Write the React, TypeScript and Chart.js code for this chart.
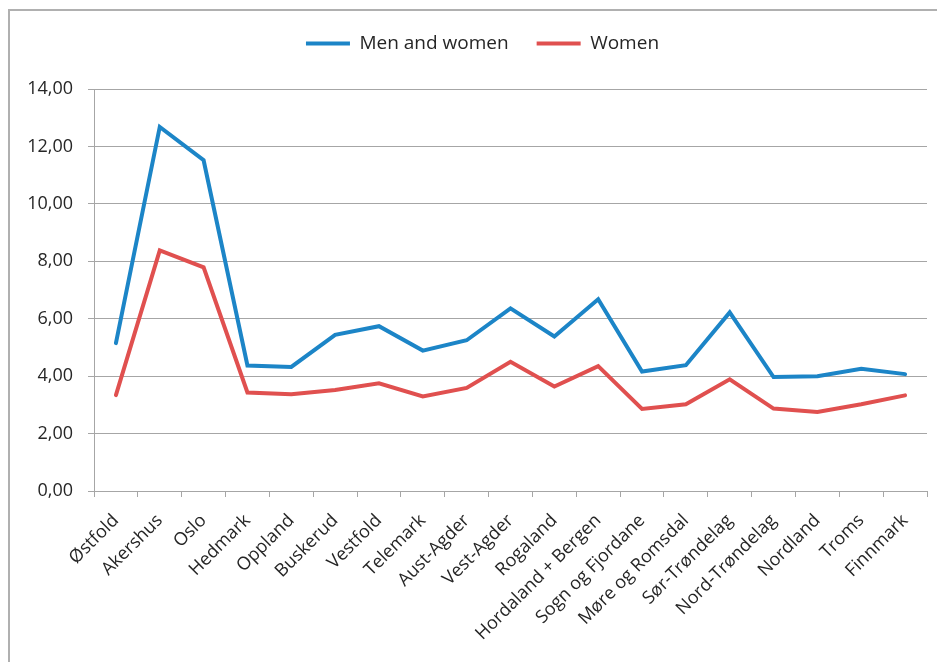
import React, { useEffect, useRef } from "react";
import { Chart, registerables } from "chart.js";

Chart.register(...registerables);

const categories = [
  "Østfold", "Akershus", "Oslo", "Hedmark", "Oppland", "Buskerud", "Vestfold",
  "Telemark", "Aust-Agder", "Vest-Agder", "Rogaland", "Hordaland + Bergen",
  "Sogn og Fjordane", "Møre og Romsdal", "Sør-Trøndelag", "Nord-Trøndelag",
  "Nordland", "Troms", "Finnmark",
];
const menAndWomen = [5.15, 12.68, 11.52, 4.37, 4.32, 5.44, 5.74, 4.89, 5.25, 6.36, 5.38, 6.68, 4.16, 4.38, 6.22, 3.97, 4.0, 4.26, 4.07];
const women = [3.34, 8.38, 7.79, 3.43, 3.37, 3.52, 3.75, 3.29, 3.59, 4.5, 3.64, 4.35, 2.86, 3.02, 3.89, 2.87, 2.75, 3.02, 3.33];
const seriesNames = ["Men and women", "Women"];
const yMin = 0;
const yMax = 14;
const yStep = 2;

const FONT = "'Open Sans', sans-serif";
const GRID = "#a6a6a6";
const TEXT = "#262626";

const legendSpacer = {
  id: "legendSpacer",
  beforeInit(chart: any) {
    const lg = chart.legend;
    if (!lg) return;
    const origFit = lg.fit;
    lg.fit = function () {
      origFit.call(this);
      this.height += 26;
    };
  },
  afterLayout(chart: any) {
    const lg = chart.legend;
    if (!lg) return;
    lg.left += 19;
    lg.right += 19;
  },
};

export default function App() {
  const ref = useRef<HTMLCanvasElement | null>(null);
  useEffect(() => {
    if (!ref.current) return;
    const chart = new Chart(ref.current, {
      type: "line",
      plugins: [legendSpacer],
      data: {
        labels: categories,
        datasets: [
          {
            label: seriesNames[0],
            data: menAndWomen,
            borderColor: "#1c85c7",
            backgroundColor: "#1c85c7",
            borderWidth: 4,
            pointRadius: 0,
            tension: 0,
            borderCapStyle: "round",
            borderJoinStyle: "miter",
          },
          {
            label: seriesNames[1],
            data: women,
            borderColor: "#e0504f",
            backgroundColor: "#e0504f",
            borderWidth: 4,
            pointRadius: 0,
            tension: 0,
            borderCapStyle: "round",
            borderJoinStyle: "miter",
          },
        ],
      },
      options: {
        responsive: false,
        animation: false,
        layout: { padding: { top: 6, right: 10, left: 0, bottom: 0 } },
        plugins: {
          tooltip: { enabled: false },
          legend: {
            position: "top",
            labels: {
              usePointStyle: true,
              pointStyle: "line",
              pointStyleWidth: 44,
              boxHeight: 4,
              padding: 28,
              color: TEXT,
              font: { family: FONT, size: 19 },
            },
          },
        },
        scales: {
          x: {
            offset: true,
            afterFit: (s: any) => { s.height = 171; },
            grid: {
              offset: true,
              drawOnChartArea: false,
              drawTicks: true,
              tickLength: 6,
              color: GRID,
            },
            border: { display: true, color: GRID, width: 1 },
            ticks: {
              autoSkip: false,
              maxRotation: 45,
              minRotation: 45,
              padding: 13,
              color: TEXT,
              font: { family: FONT, size: 18 },
            },
          },
          y: {
            min: yMin,
            max: yMax,
            afterFit: (s: any) => { s.width = 94; },
            grid: { color: GRID, tickLength: 6, drawTicks: true },
            border: { display: true, color: GRID, width: 1 },
            ticks: {
              stepSize: yStep,
              padding: 15,
              color: TEXT,
              font: { family: FONT, size: 18 },
              callback: (v: any) => Number(v).toFixed(2).replace(".", ","),
            },
          },
        },
      },
    });
    return () => chart.destroy();
  }, []);

  return (
    <div style={{ position: "fixed", left: 0, top: 0, width: 937, height: 662, overflow: "hidden", background: "#fff" }}>
      <canvas ref={ref} width={937} height={662} style={{ position: "absolute", left: 0, top: 0, width: 937, height: 662 }} />
      <div style={{ position: "absolute", left: 8, top: 9, width: 1200, height: 1200, borderTop: "2px solid #b0b0b0", borderLeft: "2px solid #b0b0b0", pointerEvents: "none" }} />
    </div>
  );
}
